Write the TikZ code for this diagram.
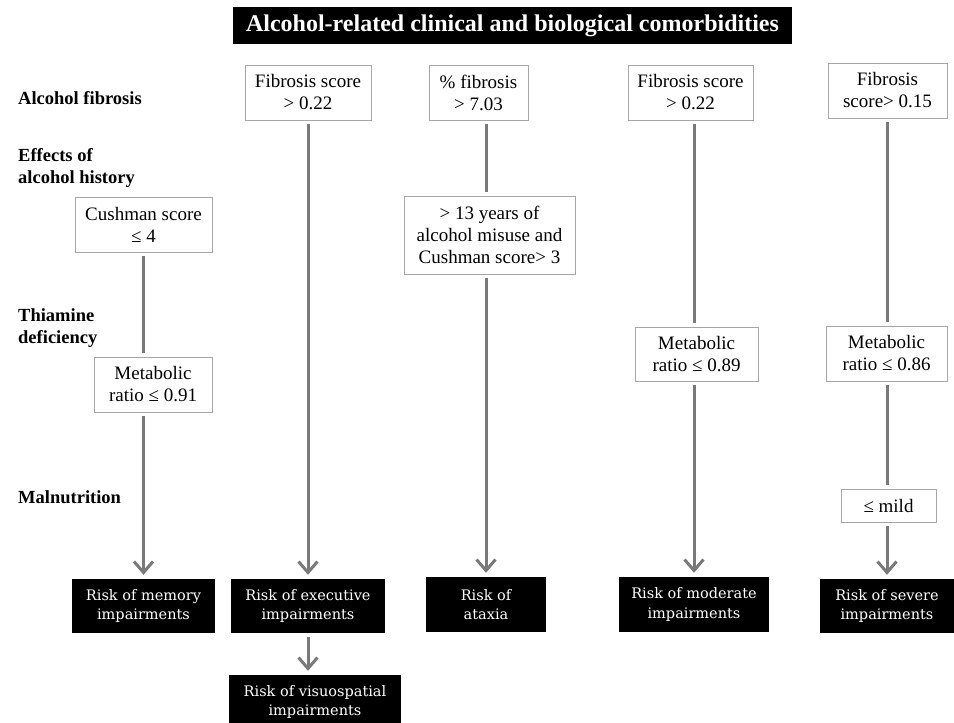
\documentclass[tikz,border=0pt]{standalone}
\usepackage{fontspec}
\setmainfont{Liberation Serif}
\newfontfamily\slabfont{DejaVu Serif}
\usetikzlibrary{arrows.meta}

\begin{document}
\begin{tikzpicture}[x=1pt, y=-1pt,
  rowlabel/.style={anchor=west, inner sep=0pt, align=left,
    font=\bfseries\fontsize{18.5}{22}\selectfont},
  crit/.style={draw=gray!70, line width=0.8pt, fill=white, align=center,
    inner sep=0pt, font=\fontsize{19}{22}\selectfont},
  risk/.style={fill=black, text=white, align=center, inner sep=0pt,
    font=\slabfont\fontsize{14.5}{19.5}\selectfont},
  link/.style={draw=gray!95!black, line width=3pt, shorten <=4pt, shorten >=4pt},
  arr/.style={-{Straight Barb[length=11pt,width=19pt]}}]

  \useasboundingbox (0,0) rectangle (954,723);

  % Title

  \node [fill=black, text=white, minimum width=559pt, minimum height=37pt,
    inner sep=0pt, font=\bfseries\fontsize{24}{28}\selectfont]
    (ttl) at (512.5,25.5) {Alcohol-related clinical and biological comorbidities};

  % Comorbidity rows

  \node [rowlabel] (lfb) at (18,98)  {Alcohol fibrosis};
  \node [rowlabel] (lhi) at (18,168) {Effects of\\alcohol history};
  \node [rowlabel] (lth) at (18,328) {Thiamine\\deficiency};
  \node [rowlabel] (lma) at (18,497) {Malnutrition};

  % Criteria boxes

  \node [crit, minimum width=126pt, minimum height=55pt] (fb1) at (308,92.5)
    {Fibrosis score\\> 0.22};
  \node [crit, minimum width=99pt, minimum height=55pt] (fb2) at (478.5,92.5)
    {\% fibrosis\\> 7.03};
  \node [crit, minimum width=125pt, minimum height=55pt] (fb3) at (690.5,92.5)
    {Fibrosis score\\> 0.22};
  \node [crit, minimum width=119pt, minimum height=55pt] (fb4) at (887.5,90.5)
    {Fibrosis\\score> 0.15};
  \node [crit, minimum width=137pt, minimum height=55pt] (csh) at (143.5,224.5)
    {Cushman score\\≤ 4};
  \node [crit, minimum width=171pt, minimum height=78pt] (yrs) at (489.5,235)
    {> 13 years of\\alcohol misuse and\\Cushman score> 3};
  \node [crit, minimum width=118pt, minimum height=55pt] (mr1) at (153,384.5)
    {Metabolic\\ratio ≤ 0.91};
  \node [crit, minimum width=123pt, minimum height=54pt] (mr3) at (696.5,354)
    {Metabolic\\ratio ≤ 0.89};
  \node [crit, minimum width=121pt, minimum height=55pt] (mr4) at (886.5,353.5)
    {Metabolic\\ratio ≤ 0.86};
  \node [crit, minimum width=95pt, minimum height=33pt] (mld) at (888.5,505.5)
    {≤ mild};

  % Outcomes

  \node [risk, minimum width=143pt, minimum height=54pt] (mem) at (143.5,606)
    {Risk of memory\\impairments};
  \node [risk, minimum width=154pt, minimum height=54pt] (exe) at (308,606)
    {Risk of executive\\impairments};
  \node [risk, minimum width=120pt, minimum height=55pt] (atx) at (486,604.5)
    {Risk of\\ataxia};
  \node [risk, minimum width=150pt, minimum height=55pt] (mod) at (694,604.5)
    {Risk of moderate\\impairments};
  \node [risk, minimum width=134pt, minimum height=54pt] (sev) at (887,606)
    {Risk of severe\\impairments};
  \node [risk, minimum width=172pt, minimum height=54pt] (vis) at (315,702)
    {Risk of visuospatial\\impairments};

  % Connections

  \draw [link]
    (csh) edge (csh |- mr1.north)
    (fb2.south -| atx) edge (atx |- yrs.north)
    (fb3.south -| mod) edge (mod |- mr3.north)
    (fb4.south -| sev) edge (sev |- mr4.north)
    (mr4.south -| sev) edge (sev |- mld.north);
  \draw [link]
    (mr1.south -| mem) edge [arr] (mem)
    (fb1) edge [arr] (exe)
    (exe) edge [arr] (exe |- vis.north)
    (yrs.south -| atx) edge [arr] (atx)
    (mr3.south -| mod) edge [arr] (mod)
    (mld.south -| sev) edge [arr] (sev);
\end{tikzpicture}
\end{document}
